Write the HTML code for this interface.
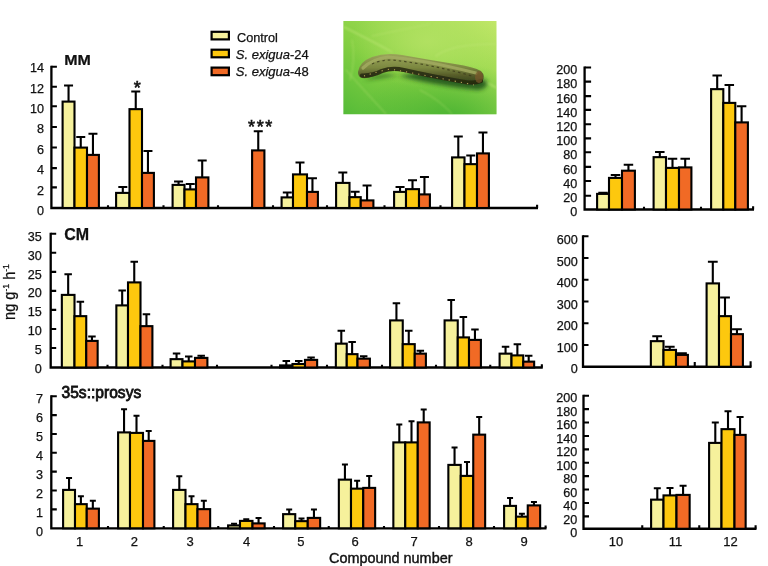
<!DOCTYPE html>
<html><head><meta charset="utf-8"><title>Figure</title>
<style>html,body{margin:0;padding:0;background:#fff}svg{display:block}text{font-family:"Liberation Sans",Arial,sans-serif;fill:#111;stroke:#111;stroke-width:0.25px}</style>
</head><body>
<svg width="768" height="566" viewBox="0 0 768 566">
<rect width="768" height="566" fill="#fff"/>

<defs>
<linearGradient id="lg" x1="0" y1="1" x2="1" y2="0">
<stop offset="0" stop-color="#55bb38"/><stop offset="0.4" stop-color="#84cf42"/><stop offset="0.75" stop-color="#a6dd56"/><stop offset="1" stop-color="#c2e768"/>
</linearGradient>
<radialGradient id="hl" cx="0.55" cy="0.22" r="0.5">
<stop offset="0" stop-color="#b4e264" stop-opacity="0.85"/><stop offset="1" stop-color="#b4e264" stop-opacity="0"/>
</radialGradient>
<radialGradient id="dk" cx="0.7" cy="1.05" r="0.6">
<stop offset="0" stop-color="#3fae30" stop-opacity="0.8"/><stop offset="1" stop-color="#3fae30" stop-opacity="0"/>
</radialGradient>
<linearGradient id="body" x1="0" y1="0" x2="0" y2="1">
<stop offset="0" stop-color="#9aa45a"/><stop offset="0.45" stop-color="#7c8840"/><stop offset="0.72" stop-color="#545a28"/><stop offset="1" stop-color="#2e441a"/>
</linearGradient>
<clipPath id="pc"><rect x="343.2" y="21" width="153.5" height="93.5"/></clipPath>
<filter id="b1" x="-20%" y="-20%" width="140%" height="140%"><feGaussianBlur stdDeviation="0.6"/></filter>
<filter id="b3" x="-20%" y="-20%" width="140%" height="140%"><feGaussianBlur stdDeviation="1"/></filter>
<filter id="b2" x="-20%" y="-20%" width="140%" height="140%"><feGaussianBlur stdDeviation="2"/></filter>
</defs>
<g clip-path="url(#pc)">
<rect x="343.2" y="21" width="153.5" height="93.5" fill="url(#lg)"/>
<rect x="343.2" y="21" width="153.5" height="93.5" fill="url(#hl)"/>
<rect x="343.2" y="21" width="153.5" height="93.5" fill="url(#dk)"/>
<g fill="none" stroke="#c4ea7c" stroke-linecap="round" filter="url(#b3)" opacity="0.6">
<path d="M344 27 Q370 40 392 52" stroke-width="1.4"/>
<path d="M480 79 L497 88" stroke-width="1.6"/>
<path d="M436 56 Q450 44 497 44" stroke-width="1.2"/>
<path d="M346 70 Q362 88 386 114" stroke-width="1"/>
<path d="M352 40 Q356 60 350 80" stroke-width="0.8"/>
<path d="M420 90 Q440 100 452 114" stroke-width="0.8"/>
<path d="M372 36 Q400 30 430 24" stroke-width="0.8"/>
</g>
<path d="M364 80 Q380 73 396 75 Q430 85 478 90 Q490 88 486 80 L440 70 Z" fill="#23541a" opacity="0.9" filter="url(#b2)"/>
<g filter="url(#b1)">
<path d="M358 72 Q359 62 372 57 Q386 52 402 55 Q430 60 455 64 Q474 67 481 71 Q486 76 482 82 Q476 86 462 83 Q430 78 404 72 Q390 69 380 73 Q370 79 362 78 Q358 77 358 72Z" fill="url(#body)"/>
<path d="M362 75.5 Q372 76 382 71 Q392 67.5 404 70 Q430 76 462 81.5 Q474 84 481 81" stroke="#26280f" stroke-width="4.2" fill="none" stroke-linecap="round" opacity="0.85"/>
<path d="M363 68 Q372 59 388 57 Q420 59 476 73" stroke="#a4ac62" stroke-width="3.2" fill="none" stroke-linecap="round" opacity="0.8"/>
<path d="M372 64 Q380 60 392 60 Q430 64 472 76" stroke="#3c3c1c" stroke-width="1.2" fill="none" stroke-dasharray="2.5 3" opacity="0.8"/>
<path d="M364 76 Q376 72 390 69 Q430 76 474 85" stroke="#c8b060" stroke-width="1.1" fill="none" stroke-dasharray="1.2 5" opacity="0.9"/>
<ellipse cx="479" cy="77" rx="4" ry="6" fill="#7a5a2c" opacity="0.7"/>
</g>
</g>

<path d="M51.4 65.7V208H538" stroke="#000" stroke-width="2.3" fill="none" stroke-linejoin="miter"/>
<path d="M51.4 66.70h5.5M51.4 86.80h5.5M51.4 106.20h5.5M51.4 127.00h5.5M51.4 147.50h5.5M51.4 168.10h5.5M51.4 187.40h5.5M108.00 208v-2.7M163.50 208v-2.7M218.00 208v-2.7M273.00 208v-2.7M327.00 208v-2.7M384.50 208v-2.7M440.50 208v-2.7M537.10 208v-3.2" stroke="#000" stroke-width="2.1" fill="none"/>
<text x="44" y="72.10" text-anchor="end" font-size="12.6">14</text>
<text x="44" y="92.50" text-anchor="end" font-size="12.6">12</text>
<text x="44" y="112.90" text-anchor="end" font-size="12.6">10</text>
<text x="44" y="133.30" text-anchor="end" font-size="12.6">8</text>
<text x="44" y="153.70" text-anchor="end" font-size="12.6">6</text>
<text x="44" y="174.10" text-anchor="end" font-size="12.6">4</text>
<text x="44" y="194.50" text-anchor="end" font-size="12.6">2</text>
<text x="44" y="214.90" text-anchor="end" font-size="12.6">0</text>
<path d="M68.55 101.60V85.50M64.05 85.50H73.05" stroke="#000" stroke-width="2.1" fill="none"/>
<rect x="62.60" y="101.60" width="11.90" height="106.40" fill="#f6f19c" stroke="#000" stroke-width="2.1"/>
<path d="M80.75 147.60V137.00M76.25 137.00H85.25" stroke="#000" stroke-width="2.1" fill="none"/>
<rect x="74.50" y="147.60" width="12.50" height="60.40" fill="#fdc80e" stroke="#000" stroke-width="2.1"/>
<path d="M92.95 154.90V133.75M88.45 133.75H97.45" stroke="#000" stroke-width="2.1" fill="none"/>
<rect x="87.00" y="154.90" width="11.90" height="53.10" fill="#f16a25" stroke="#000" stroke-width="2.1"/>
<path d="M122.80 192.90V187.00M118.30 187.00H127.30" stroke="#000" stroke-width="2.1" fill="none"/>
<rect x="116.10" y="192.90" width="13.40" height="15.10" fill="#f6f19c" stroke="#000" stroke-width="2.1"/>
<path d="M135.75 109.15V91.50M131.25 91.50H140.25" stroke="#000" stroke-width="2.1" fill="none"/>
<rect x="129.50" y="109.15" width="12.50" height="98.85" fill="#fdc80e" stroke="#000" stroke-width="2.1"/>
<path d="M147.95 172.90V151.00M143.45 151.00H152.45" stroke="#000" stroke-width="2.1" fill="none"/>
<rect x="142.00" y="172.90" width="11.90" height="35.10" fill="#f16a25" stroke="#000" stroke-width="2.1"/>
<path d="M178.55 184.90V181.50M174.05 181.50H183.05" stroke="#000" stroke-width="2.1" fill="none"/>
<rect x="172.60" y="184.90" width="11.90" height="23.10" fill="#f6f19c" stroke="#000" stroke-width="2.1"/>
<path d="M190.25 189.40V184.00M185.75 184.00H194.75" stroke="#000" stroke-width="2.1" fill="none"/>
<rect x="184.50" y="189.40" width="11.50" height="18.60" fill="#fdc80e" stroke="#000" stroke-width="2.1"/>
<path d="M202.20 177.40V160.50M197.70 160.50H206.70" stroke="#000" stroke-width="2.1" fill="none"/>
<rect x="196.00" y="177.40" width="12.40" height="30.60" fill="#f16a25" stroke="#000" stroke-width="2.1"/>
<path d="M258.25 150.40V131.25M253.75 131.25H262.75" stroke="#000" stroke-width="2.1" fill="none"/>
<rect x="252.10" y="150.40" width="12.30" height="57.60" fill="#f16a25" stroke="#000" stroke-width="2.1"/>
<path d="M287.30 197.40V192.50M282.80 192.50H291.80" stroke="#000" stroke-width="2.1" fill="none"/>
<rect x="281.60" y="197.40" width="11.40" height="10.60" fill="#f6f19c" stroke="#000" stroke-width="2.1"/>
<path d="M300.00 174.40V162.50M295.50 162.50H304.50" stroke="#000" stroke-width="2.1" fill="none"/>
<rect x="293.00" y="174.40" width="14.00" height="33.60" fill="#fdc80e" stroke="#000" stroke-width="2.1"/>
<path d="M312.45 191.90V178.25M307.95 178.25H316.95" stroke="#000" stroke-width="2.1" fill="none"/>
<rect x="307.00" y="191.90" width="10.90" height="16.10" fill="#f16a25" stroke="#000" stroke-width="2.1"/>
<path d="M342.80 182.90V172.50M338.30 172.50H347.30" stroke="#000" stroke-width="2.1" fill="none"/>
<rect x="336.10" y="182.90" width="13.40" height="25.10" fill="#f6f19c" stroke="#000" stroke-width="2.1"/>
<path d="M355.12 197.15V191.75M350.62 191.75H359.62" stroke="#000" stroke-width="2.1" fill="none"/>
<rect x="349.50" y="197.15" width="11.25" height="10.85" fill="#fdc80e" stroke="#000" stroke-width="2.1"/>
<path d="M367.07 200.40V185.50M362.57 185.50H371.57" stroke="#000" stroke-width="2.1" fill="none"/>
<rect x="360.75" y="200.40" width="12.65" height="7.60" fill="#f16a25" stroke="#000" stroke-width="2.1"/>
<path d="M400.05 191.90V187.00M395.55 187.00H404.55" stroke="#000" stroke-width="2.1" fill="none"/>
<rect x="394.10" y="191.90" width="11.90" height="16.10" fill="#f6f19c" stroke="#000" stroke-width="2.1"/>
<path d="M412.50 189.15V180.25M408.00 180.25H417.00" stroke="#000" stroke-width="2.1" fill="none"/>
<rect x="406.00" y="189.15" width="13.00" height="18.85" fill="#fdc80e" stroke="#000" stroke-width="2.1"/>
<path d="M424.45 194.40V177.00M419.95 177.00H428.95" stroke="#000" stroke-width="2.1" fill="none"/>
<rect x="419.00" y="194.40" width="10.90" height="13.60" fill="#f16a25" stroke="#000" stroke-width="2.1"/>
<path d="M458.30 157.40V136.50M453.80 136.50H462.80" stroke="#000" stroke-width="2.1" fill="none"/>
<rect x="452.10" y="157.40" width="12.40" height="50.60" fill="#f6f19c" stroke="#000" stroke-width="2.1"/>
<path d="M470.75 164.15V155.50M466.25 155.50H475.25" stroke="#000" stroke-width="2.1" fill="none"/>
<rect x="464.50" y="164.15" width="12.50" height="43.85" fill="#fdc80e" stroke="#000" stroke-width="2.1"/>
<path d="M482.95 153.40V132.50M478.45 132.50H487.45" stroke="#000" stroke-width="2.1" fill="none"/>
<rect x="477.00" y="153.40" width="11.90" height="54.60" fill="#f16a25" stroke="#000" stroke-width="2.1"/>
<path d="M584.6 66.5V209.5H754" stroke="#000" stroke-width="2.3" fill="none" stroke-linejoin="miter"/>
<path d="M584.6 67.50h6.5M584.6 81.60h6.5M584.6 96.10h6.5M584.6 109.90h6.5M584.6 124.20h6.5M584.6 138.40h6.5M584.6 152.20h6.5M584.6 166.90h6.5M584.6 181.00h6.5M584.6 195.80h6.5M644.00 209.5v-2.7M701.00 209.5v-2.7M753.10 209.5v-3.2" stroke="#000" stroke-width="2.1" fill="none"/>
<text x="577.3" y="74.20" text-anchor="end" font-size="12.6">200</text>
<text x="577.3" y="88.40" text-anchor="end" font-size="12.6">180</text>
<text x="577.3" y="102.60" text-anchor="end" font-size="12.6">160</text>
<text x="577.3" y="116.80" text-anchor="end" font-size="12.6">140</text>
<text x="577.3" y="131.00" text-anchor="end" font-size="12.6">120</text>
<text x="577.3" y="145.20" text-anchor="end" font-size="12.6">100</text>
<text x="577.3" y="159.40" text-anchor="end" font-size="12.6">80</text>
<text x="577.3" y="173.60" text-anchor="end" font-size="12.6">60</text>
<text x="577.3" y="187.80" text-anchor="end" font-size="12.6">40</text>
<text x="577.3" y="202.00" text-anchor="end" font-size="12.6">20</text>
<text x="577.3" y="216.20" text-anchor="end" font-size="12.6">0</text>
<path d="M603.05 193.90V192.70M598.30 192.70H607.80" stroke="#000" stroke-width="2.1" fill="none"/>
<rect x="597.10" y="193.90" width="11.90" height="15.60" fill="#f6f19c" stroke="#000" stroke-width="2.1"/>
<path d="M615.50 177.90V175.00M610.75 175.00H620.25" stroke="#000" stroke-width="2.1" fill="none"/>
<rect x="609.00" y="177.90" width="13.00" height="31.60" fill="#fdc80e" stroke="#000" stroke-width="2.1"/>
<path d="M628.45 170.70V164.80M623.70 164.80H633.20" stroke="#000" stroke-width="2.1" fill="none"/>
<rect x="622.00" y="170.70" width="12.90" height="38.80" fill="#f16a25" stroke="#000" stroke-width="2.1"/>
<path d="M659.80 157.15V152.00M655.05 152.00H664.55" stroke="#000" stroke-width="2.1" fill="none"/>
<rect x="653.60" y="157.15" width="12.40" height="52.35" fill="#f6f19c" stroke="#000" stroke-width="2.1"/>
<path d="M672.50 167.90V158.75M667.75 158.75H677.25" stroke="#000" stroke-width="2.1" fill="none"/>
<rect x="666.00" y="167.90" width="13.00" height="41.60" fill="#fdc80e" stroke="#000" stroke-width="2.1"/>
<path d="M685.20 167.40V158.75M680.45 158.75H689.95" stroke="#000" stroke-width="2.1" fill="none"/>
<rect x="679.00" y="167.40" width="12.40" height="42.10" fill="#f16a25" stroke="#000" stroke-width="2.1"/>
<path d="M717.20 89.15V75.50M712.45 75.50H721.95" stroke="#000" stroke-width="2.1" fill="none"/>
<rect x="711.10" y="89.15" width="12.20" height="120.35" fill="#f6f19c" stroke="#000" stroke-width="2.1"/>
<path d="M729.30 102.90V85.00M724.55 85.00H734.05" stroke="#000" stroke-width="2.1" fill="none"/>
<rect x="723.30" y="102.90" width="12.00" height="106.60" fill="#fdc80e" stroke="#000" stroke-width="2.1"/>
<path d="M741.60 122.40V106.25M736.85 106.25H746.35" stroke="#000" stroke-width="2.1" fill="none"/>
<rect x="735.30" y="122.40" width="12.60" height="87.10" fill="#f16a25" stroke="#000" stroke-width="2.1"/>
<path d="M50.7 232.75V367.5H542.75" stroke="#000" stroke-width="2.3" fill="none" stroke-linejoin="miter"/>
<path d="M50.7 233.75h5.5M50.7 252.79h5.5M50.7 271.83h5.5M50.7 290.87h5.5M50.7 309.91h5.5M50.7 328.95h5.5M50.7 347.99h5.5M107.50 367.5v-2.7M162.50 367.5v-2.7M217.00 367.5v-2.7M271.50 367.5v-2.7M327.00 367.5v-2.7M382.00 367.5v-2.7M436.00 367.5v-2.7M490.25 367.5v-2.7M541.85 367.5v-3.2" stroke="#000" stroke-width="2.1" fill="none"/>
<text x="41.8" y="240.90" text-anchor="end" font-size="12.6">35</text>
<text x="41.8" y="259.75" text-anchor="end" font-size="12.6">30</text>
<text x="41.8" y="278.60" text-anchor="end" font-size="12.6">25</text>
<text x="41.8" y="297.45" text-anchor="end" font-size="12.6">20</text>
<text x="41.8" y="316.30" text-anchor="end" font-size="12.6">15</text>
<text x="41.8" y="335.15" text-anchor="end" font-size="12.6">10</text>
<text x="41.8" y="354.00" text-anchor="end" font-size="12.6">5</text>
<text x="41.8" y="372.85" text-anchor="end" font-size="12.6">0</text>
<path d="M68.17 294.90V274.25M64.42 274.25H71.92" stroke="#000" stroke-width="2.1" fill="none"/>
<rect x="61.85" y="294.90" width="12.65" height="72.60" fill="#f6f19c" stroke="#000" stroke-width="2.1"/>
<path d="M80.38 316.15V301.75M76.62 301.75H84.12" stroke="#000" stroke-width="2.1" fill="none"/>
<rect x="74.50" y="316.15" width="11.75" height="51.35" fill="#fdc80e" stroke="#000" stroke-width="2.1"/>
<path d="M91.95 340.90V336.50M88.20 336.50H95.70" stroke="#000" stroke-width="2.1" fill="none"/>
<rect x="86.25" y="340.90" width="11.40" height="26.60" fill="#f16a25" stroke="#000" stroke-width="2.1"/>
<path d="M122.17 305.40V290.50M118.42 290.50H125.92" stroke="#000" stroke-width="2.1" fill="none"/>
<rect x="116.35" y="305.40" width="11.65" height="62.10" fill="#f6f19c" stroke="#000" stroke-width="2.1"/>
<path d="M134.25 282.40V261.75M130.50 261.75H138.00" stroke="#000" stroke-width="2.1" fill="none"/>
<rect x="128.00" y="282.40" width="12.50" height="85.10" fill="#fdc80e" stroke="#000" stroke-width="2.1"/>
<path d="M146.45 326.15V314.25M142.70 314.25H150.20" stroke="#000" stroke-width="2.1" fill="none"/>
<rect x="140.50" y="326.15" width="11.90" height="41.35" fill="#f16a25" stroke="#000" stroke-width="2.1"/>
<path d="M176.55 359.15V353.50M172.80 353.50H180.30" stroke="#000" stroke-width="2.1" fill="none"/>
<rect x="170.60" y="359.15" width="11.90" height="8.35" fill="#f6f19c" stroke="#000" stroke-width="2.1"/>
<path d="M188.75 361.40V356.50M185.00 356.50H192.50" stroke="#000" stroke-width="2.1" fill="none"/>
<rect x="182.50" y="361.40" width="12.50" height="6.10" fill="#fdc80e" stroke="#000" stroke-width="2.1"/>
<path d="M201.20 357.90V355.75M197.45 355.75H204.95" stroke="#000" stroke-width="2.1" fill="none"/>
<rect x="195.00" y="357.90" width="12.40" height="9.60" fill="#f16a25" stroke="#000" stroke-width="2.1"/>
<path d="M286.30 365.40V361.00M282.55 361.00H290.05" stroke="#000" stroke-width="2.1" fill="none"/>
<rect x="280.10" y="365.40" width="12.40" height="2.10" fill="#f6f19c" stroke="#000" stroke-width="2.1"/>
<path d="M298.75 364.00V361.00M295.00 361.00H302.50" stroke="#000" stroke-width="2.1" fill="none"/>
<rect x="292.50" y="364.00" width="12.50" height="3.50" fill="#fdc80e" stroke="#000" stroke-width="2.1"/>
<path d="M311.07 359.90V357.50M307.32 357.50H314.82" stroke="#000" stroke-width="2.1" fill="none"/>
<rect x="305.00" y="359.90" width="12.15" height="7.60" fill="#f16a25" stroke="#000" stroke-width="2.1"/>
<path d="M341.30 343.65V330.75M337.55 330.75H345.05" stroke="#000" stroke-width="2.1" fill="none"/>
<rect x="335.85" y="343.65" width="10.90" height="23.85" fill="#f6f19c" stroke="#000" stroke-width="2.1"/>
<path d="M352.12 354.15V342.00M348.38 342.00H355.88" stroke="#000" stroke-width="2.1" fill="none"/>
<rect x="346.75" y="354.15" width="10.75" height="13.35" fill="#fdc80e" stroke="#000" stroke-width="2.1"/>
<path d="M363.70 358.65V356.25M359.95 356.25H367.45" stroke="#000" stroke-width="2.1" fill="none"/>
<rect x="357.50" y="358.65" width="12.40" height="8.85" fill="#f16a25" stroke="#000" stroke-width="2.1"/>
<path d="M396.43 320.40V303.25M392.68 303.25H400.18" stroke="#000" stroke-width="2.1" fill="none"/>
<rect x="390.10" y="320.40" width="12.65" height="47.10" fill="#f6f19c" stroke="#000" stroke-width="2.1"/>
<path d="M408.75 344.15V330.75M405.00 330.75H412.50" stroke="#000" stroke-width="2.1" fill="none"/>
<rect x="402.75" y="344.15" width="12.00" height="23.35" fill="#fdc80e" stroke="#000" stroke-width="2.1"/>
<path d="M420.32 353.65V350.75M416.57 350.75H424.07" stroke="#000" stroke-width="2.1" fill="none"/>
<rect x="414.75" y="353.65" width="11.15" height="13.85" fill="#f16a25" stroke="#000" stroke-width="2.1"/>
<path d="M451.18 320.40V300.00M447.43 300.00H454.93" stroke="#000" stroke-width="2.1" fill="none"/>
<rect x="444.60" y="320.40" width="13.15" height="47.10" fill="#f6f19c" stroke="#000" stroke-width="2.1"/>
<path d="M463.38 337.40V317.00M459.62 317.00H467.12" stroke="#000" stroke-width="2.1" fill="none"/>
<rect x="457.75" y="337.40" width="11.25" height="30.10" fill="#fdc80e" stroke="#000" stroke-width="2.1"/>
<path d="M474.95 339.90V329.50M471.20 329.50H478.70" stroke="#000" stroke-width="2.1" fill="none"/>
<rect x="469.00" y="339.90" width="11.90" height="27.60" fill="#f16a25" stroke="#000" stroke-width="2.1"/>
<path d="M505.55 353.65V346.75M501.80 346.75H509.30" stroke="#000" stroke-width="2.1" fill="none"/>
<rect x="499.60" y="353.65" width="11.90" height="13.85" fill="#f6f19c" stroke="#000" stroke-width="2.1"/>
<path d="M517.38 355.40V344.25M513.62 344.25H521.12" stroke="#000" stroke-width="2.1" fill="none"/>
<rect x="511.50" y="355.40" width="11.75" height="12.10" fill="#fdc80e" stroke="#000" stroke-width="2.1"/>
<path d="M528.70 361.65V355.75M524.95 355.75H532.45" stroke="#000" stroke-width="2.1" fill="none"/>
<rect x="523.25" y="361.65" width="10.90" height="5.85" fill="#f16a25" stroke="#000" stroke-width="2.1"/>
<path d="M583 235.25V366.75H751.5" stroke="#000" stroke-width="2.3" fill="none" stroke-linejoin="miter"/>
<path d="M583 236.25h5.5M583 258.00h5.5M583 279.75h5.5M583 301.50h5.5M583 323.25h5.5M583 345.00h5.5M694.75 366.75v-4.8M750.60 366.75v-5.4" stroke="#000" stroke-width="2.1" fill="none"/>
<text x="577.8" y="244.40" text-anchor="end" font-size="12.6">600</text>
<text x="577.8" y="265.90" text-anchor="end" font-size="12.6">500</text>
<text x="577.8" y="287.40" text-anchor="end" font-size="12.6">400</text>
<text x="577.8" y="308.90" text-anchor="end" font-size="12.6">300</text>
<text x="577.8" y="330.40" text-anchor="end" font-size="12.6">200</text>
<text x="577.8" y="351.90" text-anchor="end" font-size="12.6">100</text>
<text x="577.8" y="373.40" text-anchor="end" font-size="12.6">0</text>
<path d="M657.17 341.15V336.25M652.27 336.25H662.07" stroke="#000" stroke-width="2.1" fill="none"/>
<rect x="650.85" y="341.15" width="12.65" height="25.60" fill="#f6f19c" stroke="#000" stroke-width="2.1"/>
<path d="M669.75 349.90V346.75M664.85 346.75H674.65" stroke="#000" stroke-width="2.1" fill="none"/>
<rect x="663.50" y="349.90" width="12.50" height="16.85" fill="#fdc80e" stroke="#000" stroke-width="2.1"/>
<path d="M681.95 354.90V353.25M677.05 353.25H686.85" stroke="#000" stroke-width="2.1" fill="none"/>
<rect x="676.00" y="354.90" width="11.90" height="11.85" fill="#f16a25" stroke="#000" stroke-width="2.1"/>
<path d="M712.80 283.40V261.75M707.90 261.75H717.70" stroke="#000" stroke-width="2.1" fill="none"/>
<rect x="706.60" y="283.40" width="12.40" height="83.35" fill="#f6f19c" stroke="#000" stroke-width="2.1"/>
<path d="M725.00 316.15V297.50M720.10 297.50H729.90" stroke="#000" stroke-width="2.1" fill="none"/>
<rect x="719.00" y="316.15" width="12.00" height="50.60" fill="#fdc80e" stroke="#000" stroke-width="2.1"/>
<path d="M736.95 334.15V329.25M732.05 329.25H741.85" stroke="#000" stroke-width="2.1" fill="none"/>
<rect x="731.00" y="334.15" width="11.90" height="32.60" fill="#f16a25" stroke="#000" stroke-width="2.1"/>
<path d="M51.3 395.25V528.3H546.5" stroke="#000" stroke-width="2.3" fill="none" stroke-linejoin="miter"/>
<path d="M51.3 396.25h5.5M51.3 415.10h5.5M51.3 433.95h5.5M51.3 452.80h5.5M51.3 471.65h5.5M51.3 490.50h5.5M51.3 509.35h5.5M108.00 528.3v-2.2M163.75 528.3v-2.2M218.25 528.3v-2.2M274.00 528.3v-2.2M328.75 528.3v-2.2M384.00 528.3v-2.2M439.00 528.3v-2.2M494.00 528.3v-2.2M545.60 528.3v-2.8" stroke="#000" stroke-width="2.1" fill="none"/>
<text x="43" y="403.35" text-anchor="end" font-size="12.6">7</text>
<text x="43" y="422.28" text-anchor="end" font-size="12.6">6</text>
<text x="43" y="441.21" text-anchor="end" font-size="12.6">5</text>
<text x="43" y="460.14" text-anchor="end" font-size="12.6">4</text>
<text x="43" y="479.07" text-anchor="end" font-size="12.6">3</text>
<text x="43" y="498.00" text-anchor="end" font-size="12.6">2</text>
<text x="43" y="516.93" text-anchor="end" font-size="12.6">1</text>
<text x="43" y="535.86" text-anchor="end" font-size="12.6">0</text>
<path d="M69.05 489.90V478.00M66.05 478.00H72.05" stroke="#000" stroke-width="2.1" fill="none"/>
<rect x="63.10" y="489.90" width="11.90" height="38.40" fill="#f6f19c" stroke="#000" stroke-width="2.1"/>
<path d="M80.88 504.15V496.25M77.88 496.25H83.88" stroke="#000" stroke-width="2.1" fill="none"/>
<rect x="75.00" y="504.15" width="11.75" height="24.15" fill="#fdc80e" stroke="#000" stroke-width="2.1"/>
<path d="M92.83 508.65V500.75M89.83 500.75H95.83" stroke="#000" stroke-width="2.1" fill="none"/>
<rect x="86.75" y="508.65" width="12.15" height="19.65" fill="#f16a25" stroke="#000" stroke-width="2.1"/>
<path d="M124.05 432.40V409.25M121.05 409.25H127.05" stroke="#000" stroke-width="2.1" fill="none"/>
<rect x="118.10" y="432.40" width="11.90" height="95.90" fill="#f6f19c" stroke="#000" stroke-width="2.1"/>
<path d="M136.50 432.90V415.75M133.50 415.75H139.50" stroke="#000" stroke-width="2.1" fill="none"/>
<rect x="130.00" y="432.90" width="13.00" height="95.40" fill="#fdc80e" stroke="#000" stroke-width="2.1"/>
<path d="M148.70 440.90V431.00M145.70 431.00H151.70" stroke="#000" stroke-width="2.1" fill="none"/>
<rect x="143.00" y="440.90" width="11.40" height="87.40" fill="#f16a25" stroke="#000" stroke-width="2.1"/>
<path d="M179.30 489.90V476.25M176.30 476.25H182.30" stroke="#000" stroke-width="2.1" fill="none"/>
<rect x="173.10" y="489.90" width="12.40" height="38.40" fill="#f6f19c" stroke="#000" stroke-width="2.1"/>
<path d="M191.50 504.15V496.25M188.50 496.25H194.50" stroke="#000" stroke-width="2.1" fill="none"/>
<rect x="185.50" y="504.15" width="12.00" height="24.15" fill="#fdc80e" stroke="#000" stroke-width="2.1"/>
<path d="M203.82 509.15V500.75M200.82 500.75H206.82" stroke="#000" stroke-width="2.1" fill="none"/>
<rect x="197.50" y="509.15" width="12.65" height="19.15" fill="#f16a25" stroke="#000" stroke-width="2.1"/>
<path d="M234.05 525.40V523.75M231.05 523.75H237.05" stroke="#000" stroke-width="2.1" fill="none"/>
<rect x="228.10" y="525.40" width="11.90" height="2.90" fill="#f6f19c" stroke="#000" stroke-width="2.1"/>
<path d="M246.25 520.90V519.25M243.25 519.25H249.25" stroke="#000" stroke-width="2.1" fill="none"/>
<rect x="240.00" y="520.90" width="12.50" height="7.40" fill="#fdc80e" stroke="#000" stroke-width="2.1"/>
<path d="M258.57 523.40V518.00M255.57 518.00H261.57" stroke="#000" stroke-width="2.1" fill="none"/>
<rect x="252.50" y="523.40" width="12.15" height="4.90" fill="#f16a25" stroke="#000" stroke-width="2.1"/>
<path d="M289.18 514.15V509.50M286.18 509.50H292.18" stroke="#000" stroke-width="2.1" fill="none"/>
<rect x="283.10" y="514.15" width="12.15" height="14.15" fill="#f6f19c" stroke="#000" stroke-width="2.1"/>
<path d="M301.50 521.15V518.50M298.50 518.50H304.50" stroke="#000" stroke-width="2.1" fill="none"/>
<rect x="295.25" y="521.15" width="12.50" height="7.15" fill="#fdc80e" stroke="#000" stroke-width="2.1"/>
<path d="M313.95 517.90V509.50M310.95 509.50H316.95" stroke="#000" stroke-width="2.1" fill="none"/>
<rect x="307.75" y="517.90" width="12.40" height="10.40" fill="#f16a25" stroke="#000" stroke-width="2.1"/>
<path d="M344.93 479.65V464.50M341.93 464.50H347.93" stroke="#000" stroke-width="2.1" fill="none"/>
<rect x="338.85" y="479.65" width="12.15" height="48.65" fill="#f6f19c" stroke="#000" stroke-width="2.1"/>
<path d="M357.12 488.65V480.75M354.12 480.75H360.12" stroke="#000" stroke-width="2.1" fill="none"/>
<rect x="351.00" y="488.65" width="12.25" height="39.65" fill="#fdc80e" stroke="#000" stroke-width="2.1"/>
<path d="M369.20 487.90V476.00M366.20 476.00H372.20" stroke="#000" stroke-width="2.1" fill="none"/>
<rect x="363.25" y="487.90" width="11.90" height="40.40" fill="#f16a25" stroke="#000" stroke-width="2.1"/>
<path d="M399.30 442.40V424.50M396.30 424.50H402.30" stroke="#000" stroke-width="2.1" fill="none"/>
<rect x="393.35" y="442.40" width="11.90" height="85.90" fill="#f6f19c" stroke="#000" stroke-width="2.1"/>
<path d="M411.50 442.40V421.25M408.50 421.25H414.50" stroke="#000" stroke-width="2.1" fill="none"/>
<rect x="405.25" y="442.40" width="12.50" height="85.90" fill="#fdc80e" stroke="#000" stroke-width="2.1"/>
<path d="M423.70 422.40V409.50M420.70 409.50H426.70" stroke="#000" stroke-width="2.1" fill="none"/>
<rect x="417.75" y="422.40" width="11.90" height="105.90" fill="#f16a25" stroke="#000" stroke-width="2.1"/>
<path d="M454.55 464.90V447.50M451.55 447.50H457.55" stroke="#000" stroke-width="2.1" fill="none"/>
<rect x="448.35" y="464.90" width="12.40" height="63.40" fill="#f6f19c" stroke="#000" stroke-width="2.1"/>
<path d="M467.00 475.90V462.00M464.00 462.00H470.00" stroke="#000" stroke-width="2.1" fill="none"/>
<rect x="460.75" y="475.90" width="12.50" height="52.40" fill="#fdc80e" stroke="#000" stroke-width="2.1"/>
<path d="M479.20 434.65V417.00M476.20 417.00H482.20" stroke="#000" stroke-width="2.1" fill="none"/>
<rect x="473.25" y="434.65" width="11.90" height="93.65" fill="#f16a25" stroke="#000" stroke-width="2.1"/>
<path d="M510.05 505.90V498.00M507.05 498.00H513.05" stroke="#000" stroke-width="2.1" fill="none"/>
<rect x="504.10" y="505.90" width="11.90" height="22.40" fill="#f6f19c" stroke="#000" stroke-width="2.1"/>
<path d="M521.88 516.65V513.75M518.88 513.75H524.88" stroke="#000" stroke-width="2.1" fill="none"/>
<rect x="516.00" y="516.65" width="11.75" height="11.65" fill="#fdc80e" stroke="#000" stroke-width="2.1"/>
<path d="M533.95 505.40V502.00M530.95 502.00H536.95" stroke="#000" stroke-width="2.1" fill="none"/>
<rect x="527.75" y="505.40" width="12.40" height="22.90" fill="#f16a25" stroke="#000" stroke-width="2.1"/>
<path d="M583.5 394.75V528.75H756.5" stroke="#000" stroke-width="2.3" fill="none" stroke-linejoin="miter"/>
<path d="M583.5 395.75h5.5M583.5 409.15h5.5M583.5 422.55h5.5M583.5 435.95h5.5M583.5 449.35h5.5M583.5 462.75h5.5M583.5 476.15h5.5M583.5 489.55h5.5M583.5 502.95h5.5M583.5 516.35h5.5M642.25 528.75v-3.4M699.25 528.75v-3.4M755.60 528.75v-3.6" stroke="#000" stroke-width="2.1" fill="none"/>
<text x="577.2" y="402.10" text-anchor="end" font-size="12.6">200</text>
<text x="577.2" y="415.60" text-anchor="end" font-size="12.6">180</text>
<text x="577.2" y="429.10" text-anchor="end" font-size="12.6">160</text>
<text x="577.2" y="442.60" text-anchor="end" font-size="12.6">140</text>
<text x="577.2" y="456.10" text-anchor="end" font-size="12.6">120</text>
<text x="577.2" y="469.60" text-anchor="end" font-size="12.6">100</text>
<text x="577.2" y="483.10" text-anchor="end" font-size="12.6">80</text>
<text x="577.2" y="496.60" text-anchor="end" font-size="12.6">60</text>
<text x="577.2" y="510.10" text-anchor="end" font-size="12.6">40</text>
<text x="577.2" y="523.60" text-anchor="end" font-size="12.6">20</text>
<text x="577.2" y="537.10" text-anchor="end" font-size="12.6">0</text>
<path d="M657.30 499.65V488.25M653.80 488.25H660.80" stroke="#000" stroke-width="2.1" fill="none"/>
<rect x="651.10" y="499.65" width="12.40" height="29.10" fill="#f6f19c" stroke="#000" stroke-width="2.1"/>
<path d="M670.00 495.40V488.00M666.50 488.00H673.50" stroke="#000" stroke-width="2.1" fill="none"/>
<rect x="663.50" y="495.40" width="13.00" height="33.35" fill="#fdc80e" stroke="#000" stroke-width="2.1"/>
<path d="M683.08 494.90V485.75M679.58 485.75H686.58" stroke="#000" stroke-width="2.1" fill="none"/>
<rect x="676.50" y="494.90" width="13.15" height="33.85" fill="#f16a25" stroke="#000" stroke-width="2.1"/>
<path d="M715.30 442.90V422.50M711.80 422.50H718.80" stroke="#000" stroke-width="2.1" fill="none"/>
<rect x="709.10" y="442.90" width="12.40" height="85.85" fill="#f6f19c" stroke="#000" stroke-width="2.1"/>
<path d="M728.00 429.15V411.25M724.50 411.25H731.50" stroke="#000" stroke-width="2.1" fill="none"/>
<rect x="721.50" y="429.15" width="13.00" height="99.60" fill="#fdc80e" stroke="#000" stroke-width="2.1"/>
<path d="M740.08 434.90V417.00M736.58 417.00H743.58" stroke="#000" stroke-width="2.1" fill="none"/>
<rect x="734.50" y="434.90" width="11.15" height="93.85" fill="#f16a25" stroke="#000" stroke-width="2.1"/>
<text x="79.5" y="546.1" text-anchor="middle" font-size="13">1</text>
<text x="134.25" y="546.1" text-anchor="middle" font-size="13">2</text>
<text x="190" y="546.1" text-anchor="middle" font-size="13">3</text>
<text x="246.5" y="546.1" text-anchor="middle" font-size="13">4</text>
<text x="300.75" y="546.1" text-anchor="middle" font-size="13">5</text>
<text x="355" y="546.1" text-anchor="middle" font-size="13">6</text>
<text x="414" y="546.1" text-anchor="middle" font-size="13">7</text>
<text x="469" y="546.1" text-anchor="middle" font-size="13">8</text>
<text x="524" y="546.1" text-anchor="middle" font-size="13">9</text>
<text x="616" y="546.1" text-anchor="middle" font-size="13">10</text>
<text x="675.5" y="546.1" text-anchor="middle" font-size="13">11</text>
<text x="730.5" y="546.1" text-anchor="middle" font-size="13">12</text>
<text x="329" y="563.2" font-size="14" textLength="123.5" lengthAdjust="spacingAndGlyphs" style="stroke-width:0.4px">Compound number</text>
<text transform="translate(64.2,65.2) scale(1,0.96)" font-size="16" font-weight="bold">MM</text>
<text transform="translate(64.2,239.8) scale(1,1.0)" font-size="16" font-weight="bold">CM</text>
<text x="61.5" y="397.6" font-size="15.6" style="stroke-width:0.8px">35s::prosys</text>
<text x="137.2" y="94.2" font-size="18" text-anchor="middle" style="stroke-width:0.6px">*</text>
<text x="261" y="133" font-size="18" text-anchor="middle" style="stroke-width:0.6px" letter-spacing="1.6">***</text>
<text transform="translate(15,292) rotate(-90) scale(0.91,1)" text-anchor="middle" font-size="16">ng g<tspan dy="-6.5" font-size="9.5">-1</tspan><tspan dy="6.5"> h</tspan><tspan dy="-6.5" font-size="9.5">-1</tspan></text>
<rect x="211.6" y="31.80" width="17.3" height="7.6" fill="#f6f19c" stroke="#000" stroke-width="2.2"/>
<text x="237" y="41.70" font-size="12.7">Control</text>
<rect x="211.6" y="49.70" width="17.3" height="7.6" fill="#fdc80e" stroke="#000" stroke-width="2.2"/>
<text x="235.8" y="59.00" font-size="13"><tspan font-style="italic">S. exigua</tspan>-24</text>
<rect x="211.6" y="67.60" width="17.3" height="7.6" fill="#f16a25" stroke="#000" stroke-width="2.2"/>
<text x="235.8" y="76.30" font-size="13"><tspan font-style="italic">S. exigua</tspan>-48</text>
</svg>
</body></html>
